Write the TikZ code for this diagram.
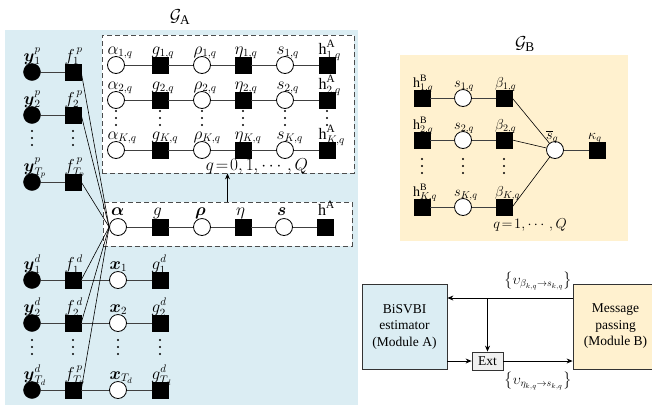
\documentclass[tikz,border=0pt]{standalone}
\usepackage{amsmath}
\usepackage{fontspec}
\setmainfont{Liberation Serif}
\usetikzlibrary{arrows.meta,calc}
\definecolor{panelA}{RGB}{219,237,243}
\definecolor{panelB}{RGB}{255,241,207}
\definecolor{extgray}{RGB}{240,240,240}
\tikzset{
  vnode/.style={circle,draw,fill=white,minimum size=17pt,inner sep=0,line width=0.8pt},
  obsnode/.style={circle,draw,fill=black,minimum size=17pt,inner sep=0},
  fnode/.style={rectangle,draw,fill=black,minimum size=16pt,inner sep=0},
  edge/.style={line width=0.8pt,draw=black!75},
  conn/.style={line width=0.6pt,draw=black},
  dbox/.style={draw=black!70,dash pattern=on 5pt off 3pt,fill=white,line width=0.8pt,inner sep=0},
  lab/.style={anchor=base west,inner sep=0,font=\fontsize{16}{18}\selectfont},
  rlab/.style={anchor=base west,inner sep=0,font=\fontsize{14}{16}\selectfont},
  modbox/.style={draw=black!80,line width=0.8pt,minimum width=85pt,minimum height=85pt,align=center,font=\fontsize{13.5}{16.5}\selectfont},
  arr/.style={line width=0.8pt,-{Stealth[length=6pt,width=5pt]}},
  gtitle/.style={font=\fontsize{19}{20}\selectfont},
}
\newcommand\nlab[3][0]{\path (#2.center) ++({-8.5+#1},-11) node[lab]{$#3$};}
\newcommand\rlabel[2]{\path (#1.center) ++(-9,-11) node[rlab]{$#2$};}
\newcommand\mlab[2]{\path (#1.center) ++(-7,-12) node[lab]{$#2$};}
\newcommand\vdts[2]{\foreach \dy in {0,7,14}{\fill (#1,#2+\dy) circle (1.1pt);}}
\begin{document}
\begin{tikzpicture}[x=1pt,y=-1pt]
\useasboundingbox (0,0) rectangle (652,408);
% panels
\fill[panelA] (5,30) rectangle (358,405);
\fill[panelB] (400,55) rectangle (628,241);
\node[gtitle] (GA) at (180,17) {$\mathcal{G}_{\mathrm{A}}$};
\node[gtitle] (GB) at (525,44) {$\mathcal{G}_{\mathrm{B}}$};
% dashed boxes
\node[dbox,minimum width=252pt,minimum height=138pt] (inbox) at (228,104) {};
\node[dbox,minimum width=249pt,minimum height=44pt] (midbox) at (227.5,224) {};
\draw[arr] (midbox.north) -- (midbox.north |- inbox.south);
% inner rows
\foreach \r/\y in {1/65,2/100,K/150}{
  \node[vnode] (a\r) at (116,\y) {};
  \node[fnode] (g\r) at (160,\y) {};
  \node[vnode] (r\r) at (202,\y) {};
  \node[fnode] (e\r) at (243,\y) {};
  \node[vnode] (s\r) at (285,\y) {};
  \node[fnode] (h\r) at (327,\y) {};
  \draw[edge] (a\r)--(g\r)--(r\r)--(e\r)--(s\r)--(h\r);
  \nlab{a\r}{\alpha_{\r,q}}
  \nlab{g\r}{g_{\r,q}}
  \nlab{r\r}{\rho_{\r,q}}
  \nlab{e\r}{\eta_{\r,q}}
  \nlab{s\r}{s_{\r,q}}
  \nlab{h\r}{\mathrm{h}^{\mathrm{A}}_{\r,q}}
}
\foreach \x in {116,160,202,243,285,327}{\vdts{\x}{111}}
\node[lab,anchor=center] (qA) at (257,166) {$q\!=\!0,1,\cdots,Q$};
% middle row
\node[vnode] (ma) at (118,227) {};
\node[fnode] (mg) at (160,227) {};
\node[vnode] (mr) at (202,227) {};
\node[fnode] (me) at (243,227) {};
\node[vnode] (ms) at (284,227) {};
\node[fnode] (mh) at (325,227) {};
\draw[edge] (ma)--(mg)--(mr)--(me)--(ms)--(mh);
\mlab{ma}{\boldsymbol{\alpha}}
\mlab{mg}{g}
\mlab{mr}{\boldsymbol{\rho}}
\mlab{me}{\eta}
\mlab{ms}{\boldsymbol{s}}
\mlab{mh}{\mathrm{h}^{\mathrm{A}}}
% pilot part
\foreach \r/\y/\s in {1/72/1,2/115/2,T/182/{T_p}}{
  \node[obsnode] (yp\r) at (32,\y) {};
  \node[fnode] (fp\r) at (73,\y) {};
  \draw[edge] (yp\r)--(fp\r);
  \nlab{yp\r}{\boldsymbol{y}^{p}_{\s}}
  \nlab{fp\r}{f^{\,p}_{\s}}
}
\vdts{32}{131}\vdts{73}{131}
% data part
\node[obsnode] (yd1) at (32,280) {};
\node[obsnode] (yd2) at (32,323) {};
\node[obsnode] (ydT) at (32,390) {};
\node[fnode] (fd1) at (73,280) {};
\node[fnode] (fd2) at (73,323) {};
\node[fnode] (fdT) at (73,390) {};
\node[vnode] (x1) at (118,280) {};
\node[vnode] (x2) at (118,323) {};
\node[vnode] (xT) at (118,390) {};
\node[fnode] (gd1) at (160,280) {};
\node[fnode] (gd2) at (160,323) {};
\node[fnode] (gdT) at (160,390) {};
\foreach \r in {1,2,T}{\draw[edge] (yd\r)--(fd\r)--(x\r)--(gd\r);}
\nlab{yd1}{\boldsymbol{y}^{d}_{1}}
\nlab{yd2}{\boldsymbol{y}^{d}_{2}}
\nlab{ydT}{\boldsymbol{y}^{d}_{T_d}}
\nlab{fd1}{f^{\,d}_{1}}
\nlab{fd2}{f^{\,d}_{2}}
\nlab{fdT}{f^{\,p}_{T_p}}
\nlab{x1}{\boldsymbol{x}_{1}}
\nlab{x2}{\boldsymbol{x}_{2}}
\nlab{xT}{\boldsymbol{x}_{T_d}}
\nlab{gd1}{g^{d}_{1}}
\nlab{gd2}{g^{d}_{2}}
\nlab{gdT}{g^{d}_{T_d}}
\foreach \x in {32,73,118,160}{\vdts{\x}{340}}
% converging connectors
\foreach \n in {fp1,fp2,fpT,fd1,fd2,fdT}{\draw[conn] (\n.east) -- (ma.west);}
% right graph
\foreach \r/\y in {1/98,2/140,K/207}{
  \node[fnode] (hb\r) at (422,\y) {};
  \node[vnode] (sb\r) at (463,\y) {};
  \node[fnode] (bb\r) at (504,\y) {};
  \draw[edge] (hb\r)--(sb\r)--(bb\r);
  \rlabel{hb\r}{\mathrm{h}^{\mathrm{B}}_{\r,q}}
  \rlabel{sb\r}{s_{\r,q}}
  \rlabel{bb\r}{\beta_{\r,q}}
}
\foreach \x in {422,463,504}{\vdts{\x}{159}}
\node[vnode] (sbar) at (555,150) {};
\node[fnode] (kap) at (597,150) {};
\rlabel{sbar}{\overline{s}_{q}}
\rlabel{kap}{\kappa_{q}}
\foreach \r in {1,2,K}{\draw[conn] (bb\r.east) -- (sbar);}
\draw[edge] (sbar) -- (kap);
\node[rlab,anchor=center] (qB) at (530,225) {$q\!=\!1,\cdots,Q$};
% module diagram
\node[modbox,fill=panelA] (modA) at (404.5,326.5) {BiSVBI\\estimator\\(Module A)};
\node[modbox,fill=panelB] (modB) at (615.5,326.5) {Message\\passing\\(Module B)};
\node[draw=black!80,fill=extgray,line width=0.8pt,minimum width=31pt,minimum height=18pt,inner sep=0,font=\fontsize{13.5}{15}\selectfont] (ext) at (487.5,361) {Ext};
\coordinate (ty) at (0,298);
\draw[arr] (modB.west |- ty) -- (modA.east |- ty);
\draw[arr] (ext.north |- ty) -- (ext.north);
\draw[arr] (modA.east |- ext) -- (ext.west);
\draw[arr] (ext.east) -- (modB.west |- ext);
\node[font=\fontsize{14}{16}\selectfont] (mtop) at (538,281) {$\left\{\upsilon_{\beta_{k,q}\to s_{k,q}}\right\}$};
\node[font=\fontsize{14}{16}\selectfont] (mbot) at (538,381) {$\left\{\upsilon_{\eta_{k,q}\to s_{k,q}}\right\}$};
\end{tikzpicture}
\end{document}
